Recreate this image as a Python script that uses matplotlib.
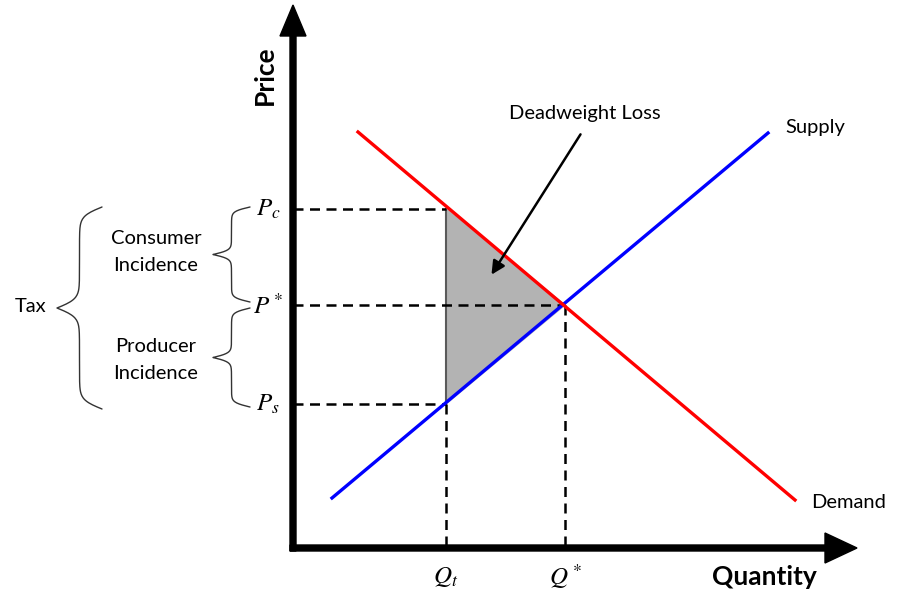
import numpy as np
import matplotlib.pyplot as plt

plt.rcParams['font.family'] = ['Lato', 'DejaVu Sans']
plt.rcParams['mathtext.fontset'] = 'stix'

# ------------------------------------------------
# Data (quantity / price units, origin at the axes corner)
# ------------------------------------------------
demand_q = [65, 502]
demand_p = [416, 48]
supply_q = [39, 475]
supply_p = [50, 415]

Q_t, Q_star = 153, 272
P_c, P_star, P_s = 339, 243, 144

price_labels = [r'$P_c$', r'$P^*$', r'$P_s$']
qty_labels = [r'$Q_t$', r'$Q^*$']


def brace(ax, x_end, x_tip, y0, y1, lw=1.0, color='#333333'):
    # vertical curly brace, ends at x_end, pointing to x_tip
    n = 201
    y = np.linspace(y0, y1, n)
    half = y[:n // 2 + 1]
    beta = 22.0 / (half[-1] - half[0])
    s = (1 / (1 + np.exp(-beta * (half - half[0])))
         + 1 / (1 + np.exp(-beta * (half - half[-1]))))
    s = np.concatenate((s, s[-2::-1]))
    x = x_end + (s - 0.5) * (x_tip - x_end)
    ax.plot(x, y, color=color, lw=lw, solid_capstyle='round')


fig = plt.figure(figsize=(9.17, 6.10), dpi=100)
ax = fig.add_axes([0, 0, 1, 1])
ax.set_xlim(-293, 624)
ax.set_ylim(-62, 548)
ax.axis('off')

# deadweight loss triangle
ax.fill([Q_t, Q_star, Q_t], [P_c, P_star, P_s], color='#b3b3b3', zorder=1)
ax.plot([Q_t, Q_t], [P_c, P_s], color='#5a5a5a', lw=1.5, zorder=2)

# dashed guides
dash = dict(color='black', lw=1.8, dashes=(4, 2.6), zorder=2)
ax.plot([0, Q_t], [P_c, P_c], **dash)
ax.plot([0, Q_star], [P_star, P_star], **dash)
ax.plot([0, Q_t], [P_s, P_s], **dash)
ax.plot([Q_t, Q_t], [P_s, 0], **dash)
ax.plot([Q_star, Q_star], [P_star, 0], **dash)

# curves
ax.plot(supply_q, supply_p, color='#0000ff', lw=2.4, zorder=3)
ax.plot(demand_q, demand_p, color='#ff0000', lw=2.4, zorder=4)

# axes arrows
ax.arrow(0, -3, 0, 546, width=6, head_width=26, head_length=31,
         length_includes_head=True, color='black', zorder=5)
ax.arrow(-3, 0, 567, 0, width=6, head_width=30, head_length=32,
         length_includes_head=True, color='black', zorder=5)

ax.text(-28, 473, 'Price', rotation=90, fontsize=19, fontweight='bold',
        ha='center', va='center')
ax.text(471, -29, 'Quantity', fontsize=19, fontweight='bold',
        ha='center', va='center')

# price / quantity labels
for lab, p in zip(price_labels, [P_c, P_star, P_s]):
    ax.text(-25, p, lab, fontsize=18, ha='center', va='center')
for lab, q in zip(qty_labels, [Q_t, Q_star]):
    ax.text(q, -29, lab, fontsize=18, ha='center', va='center')

ax.text(522, 421, 'Supply', fontsize=14.5, ha='center', va='center')
ax.text(556, 45, 'Demand', fontsize=14.5, ha='center', va='center')

ax.annotate('', xy=(197, 271), xytext=(289, 416),
            arrowprops=dict(arrowstyle='-|>', color='black', lw=1.8,
                            mutation_scale=20), zorder=6)
ax.text(292, 435, 'Deadweight Loss', fontsize=14.5, ha='center', va='center')

# braces and incidence labels
brace(ax, -43, -80, P_c + 2, P_star + 3)
brace(ax, -43, -80, P_star - 3, P_s - 3)
brace(ax, -191, -236, P_c + 2, P_s - 5, lw=1.0)
ax.text(-137, 296, 'Consumer\nIncidence', fontsize=14.5, ha='center',
        va='center', linespacing=1.7)
ax.text(-137, 188, 'Producer\nIncidence', fontsize=14.5, ha='center',
        va='center', linespacing=1.7)
ax.text(-262, 241, 'Tax', fontsize=14.5, ha='center', va='center')

fig.savefig('out.png', dpi=100)
